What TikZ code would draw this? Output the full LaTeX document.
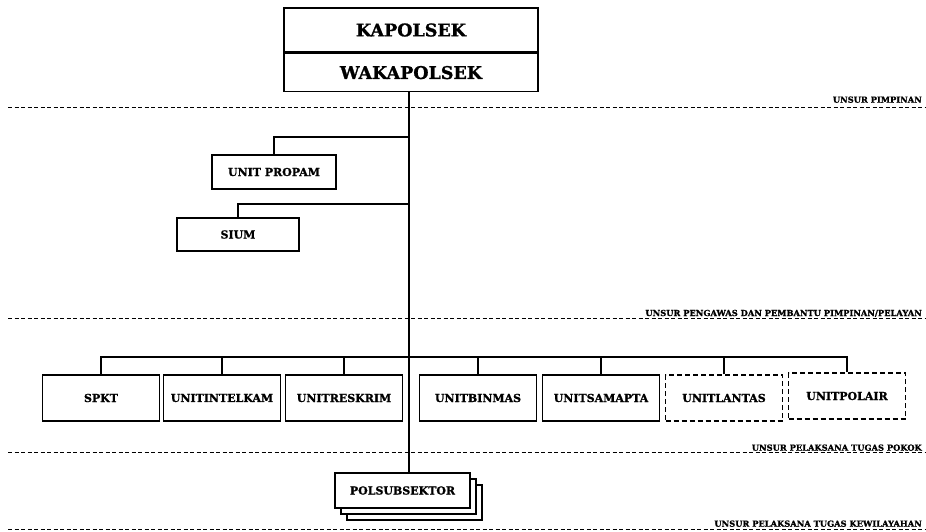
\documentclass[tikz,border=0pt]{standalone}
\usepackage{fontspec}
\setmainfont{DejaVu Serif}[BoldFeatures={FakeBold=1.2}]
\usepackage{tikz}
\usetikzlibrary{positioning, shadows, calc}

\begin{document}
\begin{tikzpicture}[
    x=1pt, y=-1pt,
    box/.style={draw, line width=1.4pt, fill=white, minimum width=117pt, minimum height=46pt,
        inner sep=0pt, font=\bfseries\fontsize{11}{12}\selectfont},
    dashbox/.style={box, dash pattern=on 5pt off 3pt},
    headbox/.style={draw, line width=1.6pt, minimum width=254pt, inner sep=0pt,
        font=\bfseries\fontsize{17.5}{20}\selectfont},
    link/.style={line width=1.3pt},
    sepline/.style={line width=0.6pt, dash pattern=on 4pt off 2.5pt},
    seplabel/.style={anchor=south east, inner sep=1pt, font=\bfseries\fontsize{8.3}{9}\selectfont}
]
\useasboundingbox (0,0) rectangle (926,531);

% pimpinan
\node[headbox, minimum height=44pt] (kapolsek) at (411,30) {KAPOLSEK};
\node[headbox, minimum height=38pt, below=0pt of kapolsek] (wakapolsek) {WAKAPOLSEK};

% pengawas / pembantu
\node[box, minimum width=124pt, minimum height=34pt] (propam) at (274,172) {UNIT PROPAM};
\node[box, minimum width=122pt, minimum height=33pt] (sium) at (238,234.5) {SIUM};

% pelaksana tugas pokok
\node[box] (spkt)     at (101,398) {SPKT};
\node[box] (intelkam) at (222,398) {UNITINTELKAM};
\node[box] (reskrim)  at (344,398) {UNITRESKRIM};
\node[box] (binmas)   at (478,398) {UNITBINMAS};
\node[box] (samapta)  at (601,398) {UNITSAMAPTA};
\node[dashbox] (lantas) at (724,398) {UNITLANTAS};
\node[dashbox] (polair) at (847,396) {UNITPOLAIR};

% kewilayahan
\node[box, minimum width=135pt, minimum height=35pt,
    double copy shadow={shadow xshift=6pt, shadow yshift=-6pt}] (polsub) at (402.5,490.5) {POLSUBSEKTOR};

\coordinate (jpropam) at (409,137);
\coordinate (jsium) at (409,204);
\coordinate (bus) at (409,357);

\draw[line width=1.6pt] (wakapolsek.south -| jpropam) -- (jpropam |- polsub.north);
\draw[link] (propam.north) |- (jpropam);
\draw[link] (sium.north) |- (jsium);
\draw[link] (spkt.north) |- (polair.north |- bus) -- (polair.north);
\foreach \u in {intelkam, reskrim, binmas, samapta, lantas}
    \draw[link] (\u.north) -- (\u.north |- bus);

% garis unsur
\draw[sepline] (8,107) -- (926,107) coordinate (s1);
\draw[sepline] (8,318) -- (926,318) coordinate (s2);
\draw[sepline] (8,452) -- (926,452) coordinate (s3);
\draw[sepline] (8,529) -- (926,529) coordinate (s4);
\node[seplabel] (l1) at ($(s1)+(-3,-3)$) {UNSUR PIMPINAN};
\node[seplabel] (l2) at ($(s2)+(-3,0)$) {UNSUR PENGAWAS DAN PEMBANTU PIMPINAN/PELAYAN};
\node[seplabel] (l3) at ($(s3)+(-3,0)$) {UNSUR PELAKSANA TUGAS POKOK};
\node[seplabel] (l4) at ($(s4)+(-3,-1)$) {UNSUR PELAKSANA TUGAS KEWILAYAHAN};
\end{tikzpicture}
\end{document}
